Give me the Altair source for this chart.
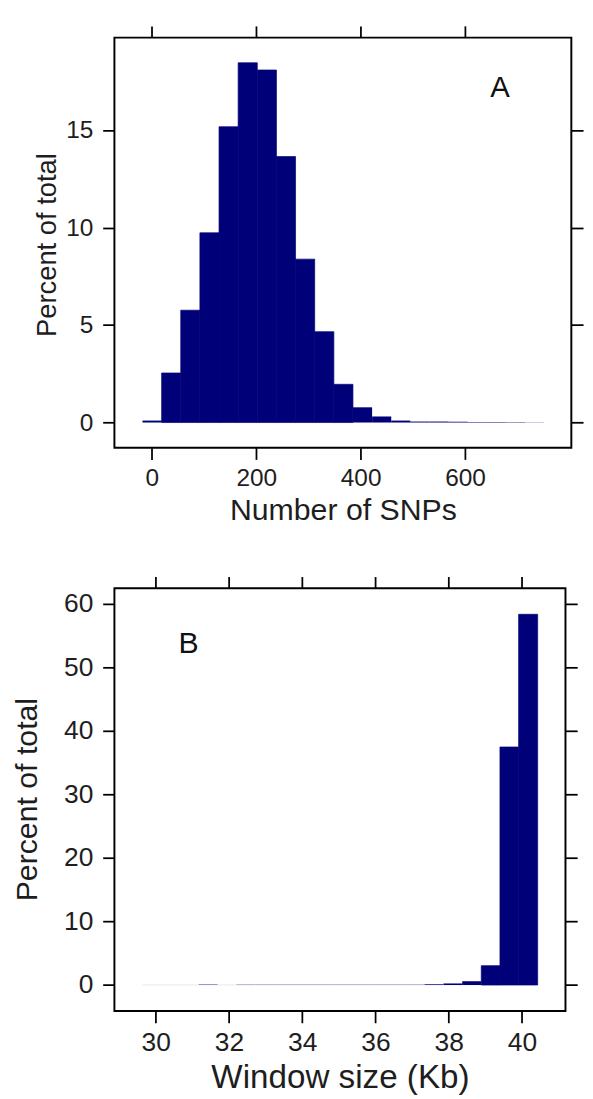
import altair as alt
import pandas as pd

# ---- Panel A: number of SNPs per window (histogram, percent of total) ----
snp_edges = [-18, 18.7, 55.3, 92, 128.7, 165.3, 202, 238.7, 275.3, 312, 348.7,
             385.3, 422, 458.7, 495.3, 532, 568.7, 605.3, 642, 678.7, 715.3, 752]
snp_percent = [0.1, 2.54, 5.76, 9.73, 15.17, 18.45, 18.08, 13.64, 8.38, 4.66, 1.96,
               0.78, 0.31, 0.1, 0.05, 0.05, 0.04, 0.025, 0.025, 0.02, 0.01]
snp_xticks = [0, 200, 400, 600]
snp_yticks = [0, 5, 10, 15]

# ---- Panel B: window size in Kb (histogram, percent of total) ----
win_edges = [29.63, 30.14, 30.66, 31.17, 31.69, 32.20, 32.72, 33.23, 33.74, 34.26, 34.77,
             35.29, 35.80, 36.31, 36.83, 37.34, 37.86, 38.37, 38.89, 39.40, 39.91, 40.43]
win_percent = [0.015, 0.015, 0.015, 0.07, 0.015, 0.05, 0.05, 0.05, 0.05, 0.05, 0.05,
               0.05, 0.05, 0.05, 0.05, 0.12, 0.25, 0.6, 3.05, 37.5, 58.4]
win_xticks = [30, 32, 34, 36, 38, 40]
win_yticks = [0, 10, 20, 30, 40, 50, 60]

NAVY = "#000078"
TXT = "#1e1e1e"
FONT = "Liberation Sans"


def hist_df(edges, pct):
    return pd.DataFrame({"lo": edges[:-1], "hi": edges[1:], "pct": pct})


def panel(df, xdom, ydom, xticks, yticks, xtitle, letter, w, h,
          tick_fs, xt_fs, yt_fs, let_fs, xtitle_pos, ytitle_pos, let_pos):
    xs = alt.Scale(domain=xdom, nice=False, zero=False)
    ys = alt.Scale(domain=ydom, nice=False, zero=False)
    common = dict(domain=False, grid=False, tickColor="black", tickWidth=1.8,
                  tickSize=12, labelFont=FONT, titleFont=FONT, labelColor=TXT,
                  titleColor=TXT, titleFontWeight="normal", labelFontSize=tick_fs)
    bars = alt.Chart(df).mark_rect(color=NAVY, stroke=NAVY).encode(
        x=alt.X("lo:Q", scale=xs, axis=alt.Axis(
            orient="bottom", values=xticks, title=xtitle, labelPadding=7,
            titleFontSize=xt_fs, titleX=xtitle_pos[0], titleY=xtitle_pos[1],
            titleAlign="center", titleBaseline="alphabetic", labelFlush=False,
            **common)),
        x2="hi:Q",
        y=alt.Y("pct:Q", scale=ys, axis=alt.Axis(
            orient="left", values=yticks, title="Percent of total", labelPadding=10,
            titleFontSize=yt_fs, titleX=ytitle_pos[0], titleY=ytitle_pos[1],
            titleAngle=270, titleAlign="center", titleBaseline="alphabetic",
            labelFlush=False, **common)),
        y2=alt.datum(0),
        strokeWidth=alt.condition("datum.pct > 1", alt.value(0.7), alt.value(0)),
    )
    mirror = alt.Chart(df).mark_rect(opacity=0).encode(
        x=alt.X("lo:Q", scale=xs, axis=alt.Axis(
            orient="top", values=xticks, labels=False, title=None, **common)),
        x2="hi:Q",
        y=alt.Y("pct:Q", scale=ys, axis=alt.Axis(
            orient="right", values=yticks, labels=False, title=None, **common)),
        y2=alt.datum(0),
    )
    lab = alt.Chart(pd.DataFrame({"t": [letter]})).mark_text(
        font=FONT, fontSize=let_fs, color="#111111", align="center", baseline="middle"
    ).encode(x=alt.value(let_pos[0]), y=alt.value(let_pos[1]), text="t:N")
    return alt.layer(bars, mirror, lab).resolve_axis(
        x="independent", y="independent").properties(width=w, height=h)


pA = panel(hist_df(snp_edges, snp_percent), [-71.8, 803.8], [-1.29, 19.74],
           snp_xticks, snp_yticks, "Number of SNPs", "A", 468, 420,
           25, 31, 28, 30, (234, 74), (-60, 212), (395, 52))
pB = panel(hist_df(win_edges, win_percent), [28.87, 41.19], [-4.09, 62.5],
           win_xticks, win_yticks, "Window size (Kb)", "B", 462, 433,
           27, 34, 31, 31, (231, 78), (-79.5, 216), (76, 57))

chart = alt.vconcat(pA, pB, spacing=49).properties(
    padding={"left": 3, "top": 3, "right": 0, "bottom": 0}
).configure_view(stroke="black", strokeWidth=2)

chart.save("out.html", embed_options={"renderer": "svg", "actions": False})
